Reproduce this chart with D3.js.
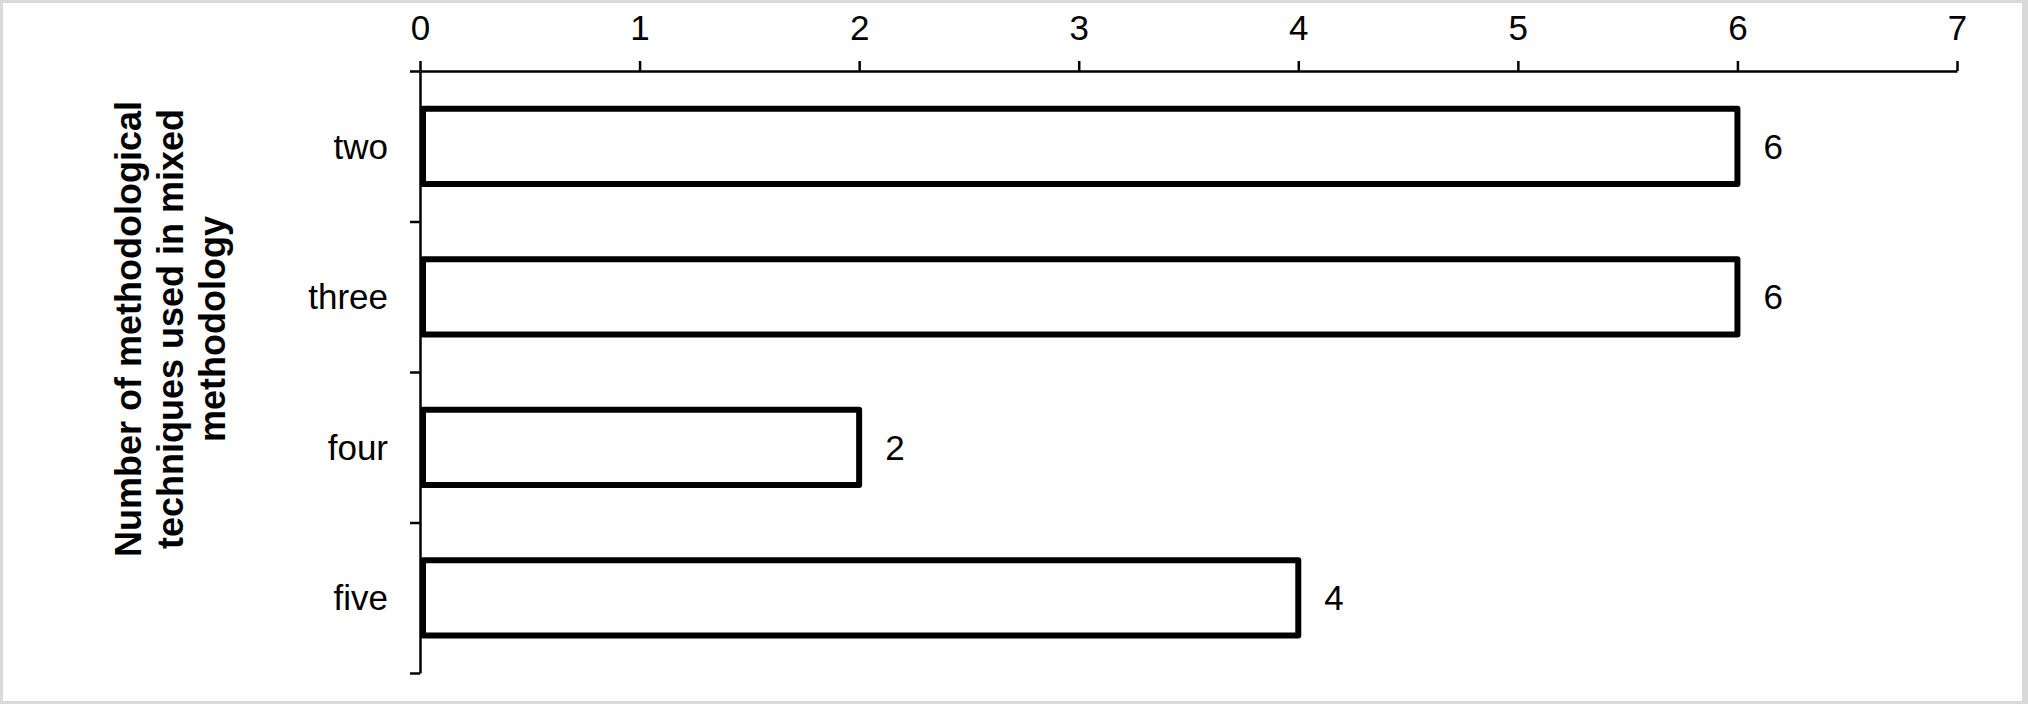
<!DOCTYPE html>
<html>
<head>
<meta charset="utf-8">
<script src="https://cdn.jsdelivr.net/npm/d3@7"></script>
<style>
  html, body { margin: 0; padding: 0; background: #d9d9d9; }
  svg { display: block; }
  text { font-family: "Liberation Sans", Arial, sans-serif; fill: #000; }
</style>
</head>
<body>
<div id="chart"></div>
<script>
// data
const categories = ['two', 'three', 'four', 'five'];
const counts = [6, 6, 2, 4];
const xTicks = [0, 1, 2, 3, 4, 5, 6, 7];
const titleLines = ['Number of methodological', 'techniques used in mixed', 'methodology'];

const W = 2028, H = 704;

// plot area
const plot = { left: 420, right: 1957, top: 71, bottom: 673 };

const svg = d3.select('#chart').append('svg')
    .attr('width', W)
    .attr('height', H);

// white page inside the grey frame
svg.append('rect')
    .attr('x', 3).attr('y', 3)
    .attr('width', 2019).attr('height', 698)
    .attr('fill', '#fff');

const x = d3.scaleLinear().domain([0, 7]).range([plot.left, plot.right]);

const y = d3.scaleBand()
    .domain(categories)
    .range([plot.top, plot.bottom])
    .paddingInner(0.5)
    .paddingOuter(0.25);

// boundaries between categories for the tick marks
const yEdge = d3.scaleLinear().domain([0, categories.length]).range([plot.top, plot.bottom]);

// x axis on top
const xAxis = svg.append('g')
    .attr('transform', 'translate(0,' + plot.top + ')')
    .call(d3.axisTop(x).tickValues(xTicks).tickFormat(d3.format('d'))
        .tickSize(10).tickSizeOuter(0).tickPadding(21));
xAxis.selectAll('path, line').attr('stroke', '#000').attr('stroke-width', 2.5);
xAxis.selectAll('text').style('font-size', '35px').attr('fill', '#000');

// y axis: tick marks on the boundaries
const yTicks = svg.append('g')
    .attr('transform', 'translate(' + plot.left + ',0)')
    .call(d3.axisLeft(yEdge).tickValues(d3.range(categories.length + 1)).tickSize(10).tickSizeOuter(0).tickFormat(''));
yTicks.selectAll('path, line').attr('stroke', '#000').attr('stroke-width', 2.5);

// y axis: category labels
const yLabels = svg.append('g')
    .attr('transform', 'translate(' + plot.left + ',0)')
    .call(d3.axisLeft(y).tickSize(0).tickPadding(32));
yLabels.select('.domain').remove();
yLabels.selectAll('text')
    .style('font-size', '35px')
    .attr('fill', '#000')
    .attr('dy', '0.36em');

// bars
svg.selectAll('rect.bar')
    .data(categories)
    .enter()
    .append('rect')
    .attr('class', 'bar')
    .attr('x', x(0) + 3)
    .attr('y', d => y(d))
    .attr('width', (d, i) => x(counts[i]) - x(0) - 3)
    .attr('height', y.bandwidth())
    .attr('fill', '#fff')
    .attr('stroke', '#000')
    .attr('stroke-width', 6)
    .attr('stroke-linejoin', 'round');

// value labels
svg.selectAll('text.value')
    .data(categories)
    .enter()
    .append('text')
    .attr('class', 'value')
    .attr('x', (d, i) => x(counts[i]) + 26)
    .attr('y', d => y(d) + y.bandwidth() / 2)
    .attr('dy', '0.36em')
    .style('font-size', '35px')
    .text((d, i) => counts[i]);

// rotated y axis title
const title = svg.append('text')
    .attr('transform', 'translate(169,329) rotate(-90)')
    .attr('text-anchor', 'middle')
    .style('font-size', '36px')
    .style('font-weight', 'bold');

title.selectAll('tspan')
    .data(titleLines)
    .enter()
    .append('tspan')
    .attr('x', 0)
    .attr('y', (d, i) => (i - 1) * 42 + 14)
    .text(d => d);
</script>
</body>
</html>
